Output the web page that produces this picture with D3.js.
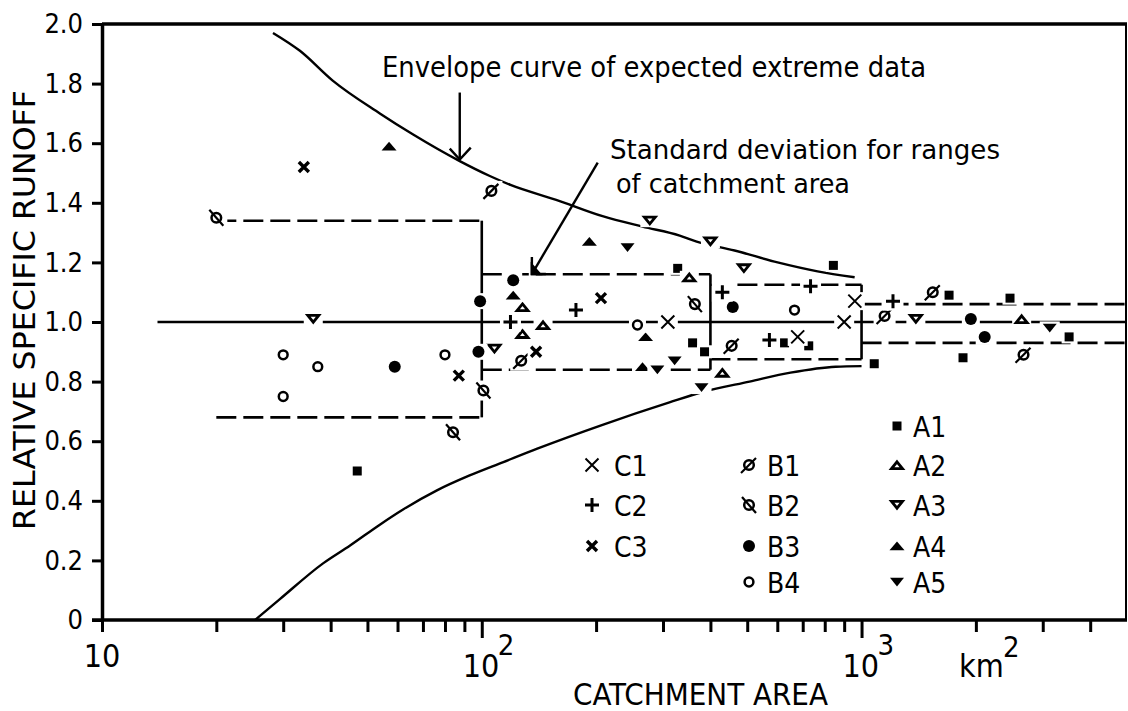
<!DOCTYPE html>
<html>
<head>
<meta charset="utf-8">
<script src="https://cdn.jsdelivr.net/npm/d3@7"></script>
<style>
  body { margin: 0; background: #fff; }
  svg text { font-family: "DejaVu Sans Condensed", "DejaVu Sans", sans-serif; font-stretch: condensed; fill: #000; }
</style>
</head>
<body>
<svg id="chart" width="1128" height="711"></svg>
<script>
// ---- axis ticks ----
const yTickValues = [0, 0.2, 0.4, 0.6, 0.8, 1.0, 1.2, 1.4, 1.6, 1.8, 2.0];
const yTickLabels = ["0", "0.2", "0.4", "0.6", "0.8", "1.0", "1.2", "1.4", "1.6", "1.8", "2.0"];
const xMinorTicks = [10, 20, 30, 40, 50, 60, 70, 80, 90, 200, 300, 400, 500, 600, 700, 800, 900, 2000, 3000, 4000];
const xMajorTicks = [100, 1000];
const xMajorExponents = ["2", "3"];

// ---- envelope curves of expected extreme data [area km2, relative runoff] ----
const envelopeUpper = [[28.2, 1.97], [33.2, 1.91], [40.5, 1.81], [53.9, 1.70], [65.8, 1.63], [87.5, 1.54],
  [105, 1.49], [119, 1.46], [157, 1.41], [208, 1.355], [265, 1.32], [332, 1.29], [368, 1.27],
  [463, 1.24], [601, 1.20], [766, 1.17], [959, 1.15]];
const envelopeLower = [[25.3, 0.0], [29.4, 0.07], [38.2, 0.19], [45, 0.25], [53.9, 0.32], [61.9, 0.37],
  [76.2, 0.435], [92.9, 0.485], [114, 0.53], [140, 0.575], [208, 0.655], [312, 0.73],
  [382, 0.765], [507, 0.80], [650, 0.83], [855, 0.85], [1000, 0.852]];

// ---- mean line and standard deviation per range of catchment area ----
const meanLine = [[14, 1.0], [5000, 1.0]];
const sdRanges = [[20, 100], [100, 400], [400, 1000], [1000, 5000]];
const sdUpper = [1.34, 1.16, 1.125, 1.06];
const sdLower = [0.68, 0.84, 0.875, 0.93];

// ---- observed stations [area km2, relative specific runoff] ----
const seriesA1 = [[47, 0.50], [328, 1.18], [359, 0.93], [386, 0.90], [843, 1.19], [627, 0.93], [726, 0.92],
  [1080, 0.86], [1700, 1.09], [1850, 0.88], [2460, 1.08], [3520, 0.95]];
const seriesA2 = [[352, 1.15], [128, 1.05], [145, 0.99], [128, 0.96], [430, 0.83], [2640, 1.01]];
const seriesA3 = [[36, 1.01], [277, 1.34], [400, 1.27], [490, 1.18], [108, 0.91], [1390, 1.01]];
const seriesA4 = [[57, 1.59], [192, 1.27], [121, 1.09], [270, 0.95], [265, 0.85]];
const seriesA5 = [[242, 1.25], [290, 0.84], [322, 0.87], [379, 0.78], [3130, 0.98]];
const seriesB1 = [[106, 1.44], [127, 0.87], [455, 0.92], [1150, 1.02], [1540, 1.10], [2670, 0.89]];
const seriesB2 = [[20, 1.35], [364, 1.06], [101, 0.77], [84, 0.63]];
const seriesB3 = [[121, 1.14], [99, 1.07], [98, 0.90], [59, 0.85], [458, 1.05], [1940, 1.01], [2110, 0.95]];
const seriesB4 = [[30, 0.89], [37, 0.85], [30, 0.75], [80, 0.89], [257, 0.99], [666, 1.04]];
const seriesC1 = [[309, 1.00], [960, 1.07], [900, 1.00], [679, 0.95]];
const seriesC2 = [[177, 1.04], [119, 1.00], [430, 1.10], [734, 1.12], [572, 0.94], [1210, 1.07]];
const seriesC3 = [[34, 1.52], [206, 1.08], [139, 0.90], [87, 0.82]];

const seriesNames = ["A1", "A2", "A3", "A4", "A5", "B1", "B2", "B3", "B4", "C1", "C2", "C3"];
const seriesValues = [seriesA1, seriesA2, seriesA3, seriesA4, seriesA5, seriesB1, seriesB2, seriesB3, seriesB4, seriesC1, seriesC2, seriesC3];

// ---- annotation arrows (data coordinates) ----
const envelopeArrow = [[87.5, 1.77], [87.5, 1.545]];
const sdArrow = [[202, 1.535], [135.5, 1.161]];

// =====================================================================
const svg = d3.select("#chart");
const x = d3.scaleLog().domain([10, 5000]).range([102, 1127]);
const y = d3.scaleLinear().domain([0, 2]).range([620, 24]);
const FONT = '"DejaVu Sans Condensed", "DejaVu Sans", sans-serif';

const lineGen = d3.line().x(d => x(d[0])).y(d => y(d[1]));
const curveGen = d3.line().x(d => x(d[0])).y(d => y(d[1])).curve(d3.curveMonotoneX);

// frame top and right
svg.append("line").attr("x1", x(10)).attr("x2", x(5000)).attr("y1", y(2)).attr("y2", y(2))
  .attr("stroke", "#000").attr("stroke-width", 3.5);
svg.append("line").attr("x1", x(5000) - 1).attr("x2", x(5000) - 1).attr("y1", y(2)).attr("y2", y(0))
  .attr("stroke", "#000").attr("stroke-width", 2);

// y axis
const gy = svg.append("g").attr("transform", `translate(${x(10)},0)`)
  .call(d3.axisLeft(y).tickValues(yTickValues).tickFormat((d, i) => yTickLabels[i])
    .tickSize(10).tickSizeOuter(0).tickPadding(9))
  .attr("font-family", FONT).attr("font-size", 27);
gy.select(".domain").attr("stroke-width", 3.5);
gy.selectAll(".tick line").attr("stroke-width", 3);
gy.selectAll(".tick text").attr("fill", "#000");

// x axis: minor and major ticks
const gxMinor = svg.append("g").attr("transform", `translate(0,${y(0)})`)
  .call(d3.axisBottom(x).tickValues(xMinorTicks).tickFormat("").tickSize(12).tickSizeOuter(0));
gxMinor.select(".domain").attr("stroke-width", 3.5).attr("d", `M${x(10) - 10},0H${x(5000)}`);
gxMinor.selectAll(".tick line").attr("stroke-width", 3);
const gxMajor = svg.append("g").attr("transform", `translate(0,${y(0)})`)
  .call(d3.axisBottom(x).tickValues(xMajorTicks).tickFormat("").tickSize(18).tickSizeOuter(0));
gxMajor.select(".domain").remove();
gxMajor.selectAll(".tick line").attr("stroke-width", 3);

// x tick labels
svg.append("text").attr("x", x(10)).attr("y", 667).attr("text-anchor", "middle")
  .attr("font-size", 32).text("10");
xMajorTicks.forEach((v, i) => {
  svg.append("text").attr("x", x(v) - 19).attr("y", 677).attr("font-size", 32).text("10");
  svg.append("text").attr("x", x(v) + 16).attr("y", 655).attr("font-size", 29).text(xMajorExponents[i]);
});
svg.append("text").attr("x", 959).attr("y", 677).attr("font-size", 32).text("km");
svg.append("text").attr("x", 1003).attr("y", 657).attr("font-size", 29).text("2");

// axis titles
svg.append("text").attr("x", 573).attr("y", 705).attr("font-size", 31)
  .attr("textLength", 255).attr("lengthAdjust", "spacingAndGlyphs").text("CATCHMENT AREA");
svg.append("text").attr("transform", "translate(35,310) rotate(-90)").attr("text-anchor", "middle")
  .attr("font-size", 30).attr("textLength", 440).attr("lengthAdjust", "spacingAndGlyphs")
  .text("RELATIVE SPECIFIC RUNOFF");

// mean line
svg.append("path").attr("d", lineGen(meanLine)).attr("fill", "none")
  .attr("stroke", "#000").attr("stroke-width", 2.6);

// standard deviation boxes
const sdG = svg.append("g").attr("fill", "none").attr("stroke", "#000").attr("stroke-width", 2.6);
sdRanges.forEach((r, i) => {
  [sdUpper[i], sdLower[i]].forEach(v => {
    sdG.append("path").attr("d", lineGen([[r[0], v], [r[1], v]])).attr("stroke-dasharray", "20,7");
  });
  if (i < sdRanges.length - 1) {
    const top = Math.max(sdUpper[i], sdUpper[i + 1]);
    const bot = Math.min(sdLower[i], sdLower[i + 1]);
    sdG.append("path").attr("d", lineGen([[r[1], top], [r[1], bot]]));
  }
});

// envelope curves
[envelopeUpper, envelopeLower].forEach(c => {
  svg.append("path").attr("d", curveGen(c)).attr("fill", "none")
    .attr("stroke", "#000").attr("stroke-width", 2.4);
});

// annotations
const annG = svg.append("g").attr("stroke", "#000").attr("stroke-width", 2.4).attr("fill", "none");
{
  const [a, b] = envelopeArrow;
  const tx = x(b[0]), ty = y(b[1]);
  annG.append("line").attr("x1", x(a[0])).attr("y1", y(a[1])).attr("x2", tx).attr("y2", ty);
  annG.append("path").attr("d", `M${tx - 10},${ty - 11}L${tx},${ty}L${tx + 11},${ty - 12}`);
}
{
  const [a, b] = sdArrow;
  const tx = x(b[0]), ty = y(b[1]);
  annG.append("line").attr("x1", x(a[0])).attr("y1", y(a[1])).attr("x2", tx).attr("y2", ty);
  annG.append("path").attr("d", `M${tx},${ty - 17}L${tx},${ty}L${tx + 14},${ty}`);
  annG.append("path").attr("d", `M${tx},${ty}L${tx},${ty - 9}L${tx + 8},${ty}Z`).attr("fill", "#000");
}
svg.append("text").attr("x", 382).attr("y", 77).attr("font-size", 28)
  .attr("textLength", 544).attr("lengthAdjust", "spacingAndGlyphs")
  .text("Envelope curve of expected extreme data");
svg.append("text").attr("x", 610).attr("y", 159).attr("font-size", 27)
  .attr("textLength", 390).attr("lengthAdjust", "spacingAndGlyphs")
  .text("Standard deviation for ranges");
svg.append("text").attr("x", 616).attr("y", 193).attr("font-size", 27)
  .attr("textLength", 234).attr("lengthAdjust", "spacingAndGlyphs")
  .text("of catchment area");

// ---- marker symbols ----
const markerBox = { A1: [9, 9], A2: [13, 9], A3: [13, 9], A4: [15, 9], A5: [14, 9], B1: [16, 16],
  B2: [16, 16], B3: [12, 12], B4: [11, 11], C1: [14, 14], C2: [15, 15], C3: [11, 11] };

function drawMarker(g, key, withBg) {
  if (withBg) {
    const [w, h] = markerBox[key];
    g.append("rect").attr("x", -w / 2 - 3).attr("y", -h / 2 - 2).attr("width", w + 6).attr("height", h + 4)
      .attr("fill", "#fff");
  }
  const blk = "#000";
  switch (key) {
    case "A1":
      g.append("rect").attr("x", -4.5).attr("y", -4.5).attr("width", 9).attr("height", 9).attr("fill", blk); break;
    case "A2":
      g.append("path").attr("d", "M0,-3.2L5.5,3.6L-5.5,3.6Z").attr("fill", "#fff").attr("stroke", blk).attr("stroke-width", 2.8); break;
    case "A3":
      g.append("path").attr("d", "M-5.5,-3.6L5.5,-3.6L0,3.2Z").attr("fill", "#fff").attr("stroke", blk).attr("stroke-width", 2.8); break;
    case "A4":
      g.append("path").attr("d", "M0,-4.5L7.5,4.2L-7.5,4.2Z").attr("fill", blk); break;
    case "A5":
      g.append("path").attr("d", "M-7,-4.2L7,-4.2L0,4.5Z").attr("fill", blk); break;
    case "B1":
      g.append("line").attr("x1", -8).attr("y1", 8).attr("x2", 7).attr("y2", -7).attr("stroke", blk).attr("stroke-width", 2.2);
      g.append("circle").attr("r", 4.8).attr("fill", "none").attr("stroke", blk).attr("stroke-width", 2.5); break;
    case "B2":
      g.append("line").attr("x1", -7).attr("y1", -8).attr("x2", 7).attr("y2", 8).attr("stroke", blk).attr("stroke-width", 2.2);
      g.append("circle").attr("r", 4.8).attr("fill", "none").attr("stroke", blk).attr("stroke-width", 2.5); break;
    case "B3":
      g.append("circle").attr("r", 6).attr("fill", blk); break;
    case "B4":
      g.append("circle").attr("r", 4.4).attr("fill", "#fff").attr("stroke", blk).attr("stroke-width", 2.5); break;
    case "C1":
      g.append("path").attr("d", "M-6.5,-6.5L6.5,6.5M6.5,-6.5L-6.5,6.5").attr("stroke", blk).attr("stroke-width", 2); break;
    case "C2":
      g.append("path").attr("d", "M-7,0H7M0,-7V7").attr("stroke", blk).attr("stroke-width", 3); break;
    case "C3":
      g.append("path").attr("d", "M-5,-5L5,5M5,-5L-5,5").attr("stroke", blk).attr("stroke-width", 3.4); break;
  }
}

// data points
const ptsG = svg.append("g");
seriesNames.forEach((name, si) => {
  ptsG.selectAll(null).data(seriesValues[si]).join("g")
    .attr("transform", d => `translate(${x(d[0])},${y(d[1])})`)
    .each(function () { drawMarker(d3.select(this), name, true); });
});

// legend
const legendRows = [437, 476, 516, 557, 593];
const legendCols = [
  { keys: ["C1", "C2", "C3"], startRow: 1, mx: 592, tx: 614 },
  { keys: ["B1", "B2", "B3", "B4"], startRow: 1, mx: 749, tx: 767 },
  { keys: ["A1", "A2", "A3", "A4", "A5"], startRow: 0, mx: 897, tx: 913 }
];
legendCols.forEach(col => {
  col.keys.forEach((k, i) => {
    const by = legendRows[col.startRow + i];
    const g = svg.append("g").attr("transform", `translate(${col.mx},${by - 11})`);
    drawMarker(g, k, false);
    svg.append("text").attr("x", col.tx).attr("y", by).attr("font-size", 28).text(k);
  });
});
</script>
</body>
</html>
